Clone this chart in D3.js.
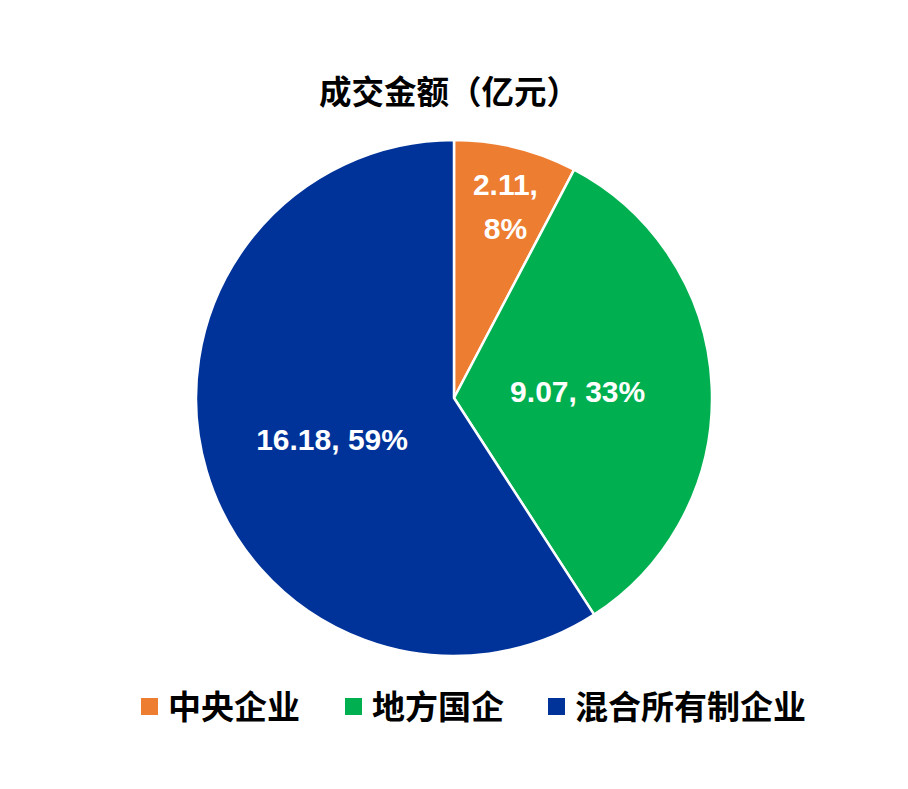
<!DOCTYPE html>
<html>
<head>
<meta charset="utf-8">
<script src="https://cdn.jsdelivr.net/npm/d3@7"></script>
<style>
  body { margin: 0; background: #fff; }
  text { font-family: "Liberation Sans", Arial, "Noto Sans CJK SC", sans-serif; }
</style>
</head>
<body>
<svg id="chart" width="908" height="789"></svg>
<script>
const categories = ['中央企业', '地方国企', '混合所有制企业'];
const amounts = [2.11, 9.07, 16.18];
const percentLabels = ['8%', '33%', '59%'];
const colors = ['#ED7D31', '#00B050', '#003399'];

// where Excel put each label: [angle from 12 o'clock in degrees, distance / radius]
const labelPlacement = [[15, 0.77], [87, 0.48], [251, 0.5]];

const cx = 454, cy = 398, radius = 258;

var svg = d3.select('#chart');

svg.append('text')
  .attr('x', 319)
  .attr('y', 93)
  .attr('dominant-baseline', 'central')
  .attr('font-size', 32.5)
  .attr('font-weight', 'bold')
  .attr('font-family', '"Noto Sans CJK SC", sans-serif')
  .text('成交金额（亿元）');

var pie = d3.pie().sort(null).value(d => d);
var arc = d3.arc().innerRadius(0).outerRadius(radius);
var slices = pie(amounts);

var g = svg.append('g').attr('transform', `translate(${cx},${cy})`);

g.selectAll('path')
  .data(slices)
  .enter()
  .append('path')
  .attr('d', arc)
  .attr('fill', (d, i) => colors[i])
  .attr('stroke', '#fff')
  .attr('stroke-width', 2.5)
  .attr('stroke-linejoin', 'round');

slices.forEach((d, i) => {
  const [deg, frac] = labelPlacement[i];
  const a = (deg * Math.PI) / 180;
  const x = Math.sin(a) * radius * frac;
  const y = -Math.cos(a) * radius * frac;
  const lines = i === 0
    ? [`${amounts[i]},`, percentLabels[i]]
    : [`${amounts[i]}, ${percentLabels[i]}`];
  const lineGap = 44;
  lines.forEach((t, j) => {
    g.append('text')
      .attr('x', x)
      .attr('y', y + (j - (lines.length - 1) / 2) * lineGap)
      .attr('text-anchor', 'middle')
      .attr('dominant-baseline', 'central')
      .attr('font-size', 30)
      .attr('font-weight', 'bold')
      .attr('fill', '#fff')
      .text(t);
  });
});

// legend
var legendX = [141, 345, 548];
var legend = svg.append('g');
categories.forEach((c, i) => {
  legend.append('rect')
    .attr('x', legendX[i])
    .attr('y', 698)
    .attr('width', 17)
    .attr('height', 17)
    .attr('fill', colors[i]);
  legend.append('text')
    .attr('x', legendX[i] + 27)
    .attr('y', 707)
    .attr('dominant-baseline', 'central')
    .attr('font-size', 33)
    .attr('font-weight', 'bold')
    .attr('font-family', '"Noto Sans CJK SC", sans-serif')
    .text(c);
});
</script>
</body>
</html>
